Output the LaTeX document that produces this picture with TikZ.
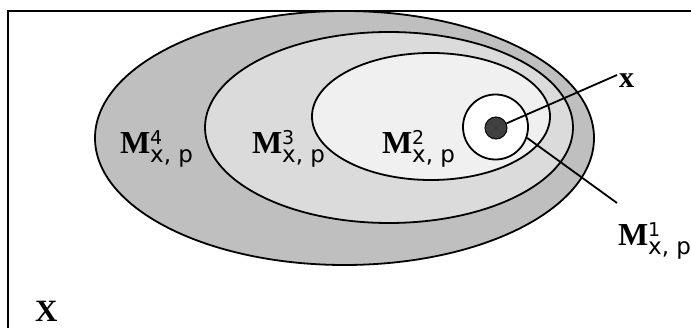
\documentclass[tikz,border=0pt]{standalone}
\usepackage{fontspec}
\setmainfont{Liberation Serif}
\newfontfamily\lblsans{DejaVu Sans}
\newcommand\Mlab[1]{{\fontsize{32}{32}\selectfont\bfseries M}\makebox[0pt][l]{\raisebox{9pt}{\lblsans\fontsize{19}{19}\selectfont #1}}\raisebox{-9pt}{\lblsans\fontsize{23}{23}\selectfont x, p}}
\begin{document}
\begin{tikzpicture}[x=1pt,y=-1pt,
  ring/.style={draw=black,line width=1.8pt},
  lbl/.style={anchor=base west,inner sep=0pt,outer sep=0pt},
  lead/.style={draw=black,line width=1.8pt}]
\useasboundingbox (0,0) rectangle (691,328);
\begin{scope}
\clip (0,0) rectangle (691,328);
\draw[line width=2pt] (8,11) rectangle (720,360);
\end{scope}
\draw[ring,fill=black!25] (344.5,138) ellipse [x radius=249.5,y radius=127];
\draw[ring,fill=black!14] (389,127.5) ellipse [x radius=184,y radius=95.5];
\draw[ring,fill=black!6] (431,116.5) ellipse [x radius=119,y radius=63.5];
\node[circle,ring,fill=white,minimum size=65pt,inner sep=0pt] (circ) at (495.5,127) {};
\node[circle,draw=black,line width=1pt,fill=black!75,minimum size=22pt,inner sep=0pt] (dot) at (496,128) {};
\coordinate (xend) at (617,75);
\coordinate (mend) at (617,203);
\draw[lead] (dot) -- (xend);
\draw[lead] (circ.-19) -- (mend);
\node[lbl] (m4) at (120,154) {\Mlab{4}};
\node[lbl] (m3) at (252,154) {\Mlab{3}};
\node[lbl] (m2) at (382,154) {\Mlab{2}};
\node[lbl] (m1) at (618,246) {\Mlab{1}};
\node[lbl] (xl) at (619,88) {\fontsize{30}{30}\selectfont\bfseries x};
\node[lbl] (Xl) at (35,322) {\fontsize{31}{31}\selectfont\bfseries X};
\end{tikzpicture}
\end{document}
